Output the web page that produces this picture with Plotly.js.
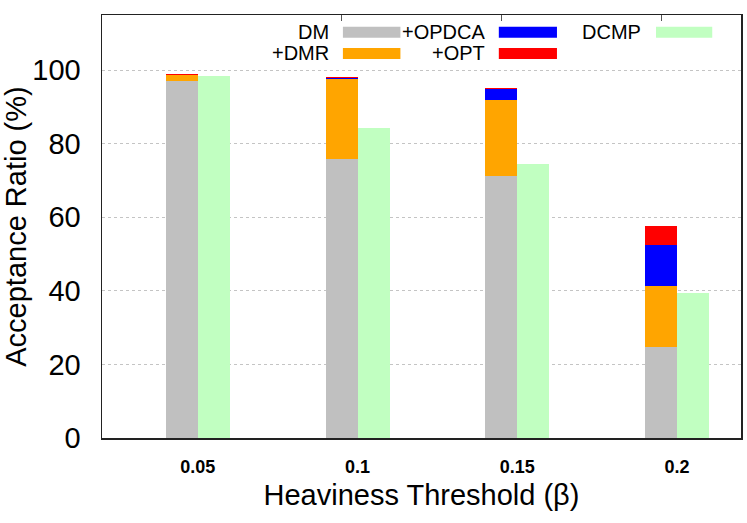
<!DOCTYPE html>
<html>
<head>
<meta charset="utf-8">
<script src="https://cdn.plot.ly/plotly-3.0.1.min.js"></script>
<style>
  body { margin: 0; background: #fff; }
  #plot { width: 747px; height: 523px; }
</style>
</head>
<body>
<div id="plot"></div>
<script>
// heaviness thresholds (beta)
var categories = ['0.05', '0.1', '0.15', '0.2'];

// stacked pieces, each one added on top of the one before
var dm    = [97.0, 75.8, 71.3, 24.7];
var dmr   = [1.6, 21.8, 20.5, 16.7];
var opdca = [0.1, 0.4, 3.0, 11.0];
var opt   = [0.3, 0.2, 0.3, 5.3];

// comparison bar
var dcmp  = [98.4, 84.2, 74.4, 39.5];

var stackNames  = ['DM', '+DMR', '+OPDCA', '+OPT'];
var stackValues = [dm, dmr, opdca, opt];
var stackColors = ['#c0c0c0', '#ffa500', '#0000ff', '#ff0000'];
var dcmpColor = '#c1ffc1';

var xpos = categories.map(function(c, i){ return i; });
var font = 'Liberation Sans, Arial, sans-serif';

var data = [];
var base = categories.map(function(){ return 0; });
stackValues.forEach(function(vals, k){
    data.push({
        type: 'bar',
        name: stackNames[k],
        x: xpos,
        y: vals,
        base: base.slice(),
        width: 0.2,
        offset: -0.2,
        marker: {color: stackColors[k], line: {width: 0}},
        showlegend: false
    });
    base = base.map(function(b, i){ return b + vals[i]; });
});
data.push({
    type: 'bar',
    name: 'DCMP',
    x: xpos,
    y: dcmp,
    width: 0.2,
    offset: 0,
    marker: {color: dcmpColor, line: {width: 0}},
    showlegend: false
});
// empty trace so the top axis (mirror ticks) gets drawn
data.push({type: 'scatter', x: [], y: [], xaxis: 'x2', showlegend: false, hoverinfo: 'skip'});

// gnuplot style key: text on the left, colour box on the right
var keyItems = [
    {name: 'DM',     color: stackColors[0], col: 0, row: 0},
    {name: '+DMR',   color: stackColors[1], col: 0, row: 1},
    {name: '+OPDCA', color: stackColors[2], col: 1, row: 0},
    {name: '+OPT',   color: stackColors[3], col: 1, row: 1},
    {name: 'DCMP',   color: dcmpColor,      col: 2, row: 0}
];
var colText = [0.358, 0.603, 0.847];
var colBox  = [[0.377, 0.467], [0.621, 0.712], [0.867, 0.955]];
var rowY    = [0.959, 0.909];
var annotations = [];
var shapes = [];
keyItems.forEach(function(it){
    annotations.push({
        xref: 'paper', yref: 'paper',
        x: colText[it.col], y: rowY[it.row],
        xanchor: 'right', yanchor: 'middle',
        text: it.name, showarrow: false,
        font: {family: font, size: 20, color: '#000'}
    });
    shapes.push({
        type: 'rect', xref: 'paper', yref: 'paper',
        x0: colBox[it.col][0], x1: colBox[it.col][1],
        y0: rowY[it.row] - 0.013, y1: rowY[it.row] + 0.013,
        fillcolor: it.color, line: {width: 0}
    });
});

var layout = {
    width: 747,
    height: 523,
    margin: {l: 102, r: 6, t: 15, b: 85},
    paper_bgcolor: '#fff',
    plot_bgcolor: '#fff',
    barmode: 'overlay',
    bargap: 0,
    xaxis: {
        range: [-0.6, 3.4],
        tickmode: 'array',
        tickvals: xpos,
        ticktext: categories,
        ticks: '',
        ticklabelstandoff: 12,
        tickfont: {family: font, size: 18, color: '#000', weight: 'bold'},
        showgrid: false,
        zeroline: false,
        showline: true,
        mirror: true,
        linecolor: '#222',
        linewidth: 1.5,
        title: {text: 'Heaviness Threshold (β)', font: {family: font, size: 29, color: '#000'}, standoff: 8}
    },
    // small mirror ticks along the top border, as in the original
    xaxis2: {
        overlaying: 'x',
        side: 'top',
        anchor: 'y',
        range: [-0.6, 3.4],
        tickmode: 'array',
        tickvals: xpos.slice(1).map(function(v){ return v - 0.1; }),
        ticks: 'inside',
        ticklen: 6,
        tickwidth: 1,
        tickcolor: '#555',
        showticklabels: false,
        showgrid: false,
        zeroline: false,
        showline: false
    },
    yaxis: {
        range: [0, 115],
        tickvals: [0, 20, 40, 60, 80, 100],
        ticks: '',
        ticklabelstandoff: 14,
        tickfont: {family: font, size: 29, color: '#000'},
        showgrid: true,
        gridcolor: '#c4c4c4',
        griddash: 'dot',
        gridwidth: 1,
        zeroline: false,
        showline: true,
        mirror: true,
        linecolor: '#222',
        linewidth: 1.5,
        title: {text: 'Acceptance Ratio (%)', font: {family: font, size: 29, color: '#000'}}
    },
    annotations: annotations,
    shapes: shapes
};

Plotly.newPlot('plot', data, layout, {displayModeBar: false, staticPlot: true});
</script>
</body>
</html>
